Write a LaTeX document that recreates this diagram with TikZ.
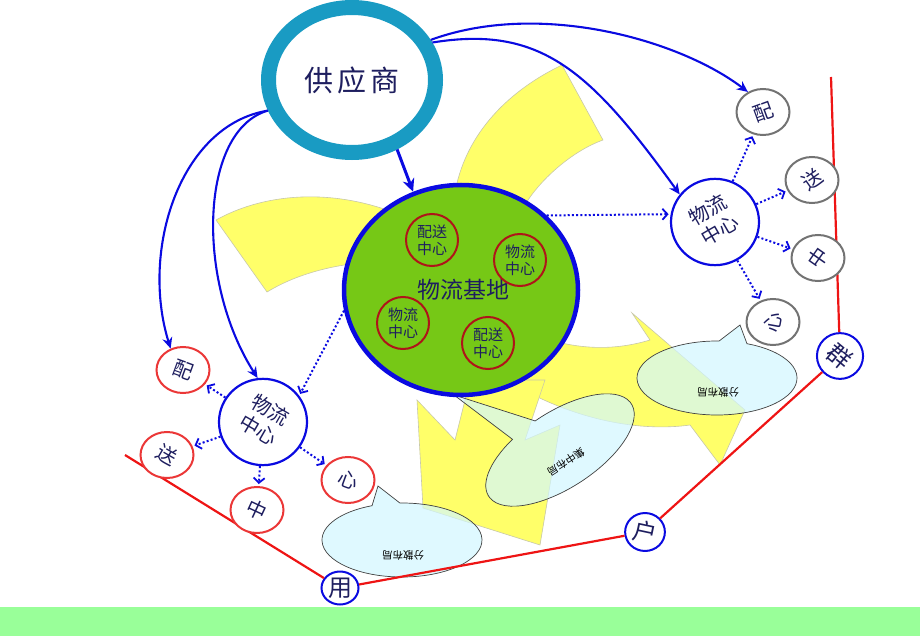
\documentclass[tikz,border=0pt]{standalone}
\usepackage{fontspec}
\newfontfamily\cjk{Noto Sans CJK SC}
\usetikzlibrary{arrows.meta,shapes.geometric,calc}
\definecolor{suppblue}{RGB}{25,155,195}
\definecolor{baseblue}{RGB}{10,10,225}
\definecolor{basegreen}{RGB}{118,200,22}
\definecolor{ringred}{RGB}{175,20,25}
\definecolor{pinkred}{RGB}{235,55,55}
\definecolor{ringgray}{RGB}{115,115,115}
\definecolor{navy}{RGB}{30,30,95}
\definecolor{swirl}{RGB}{255,255,105}
\definecolor{swirledge}{RGB}{200,200,170}
\definecolor{bubble}{RGB}{210,247,255}
\definecolor{lawn}{RGB}{153,255,153}
\definecolor{fence}{RGB}{238,20,20}
\newcommand\tilt[2]{\rotatebox{#1}{\begin{tabular}{@{}c@{}}#2\end{tabular}}}
\tikzset{>=Stealth}
\tikzset{
  hub/.style={ellipse,draw=baseblue,line width=2.2pt,fill=white,inner sep=0pt,
    minimum width=88pt,minimum height=79pt,text=navy,font=\cjk\fontsize{20}{23}\selectfont},
  inring/.style={circle,draw=ringred,line width=2pt,inner sep=0pt,minimum size=52pt,
    text=navy,align=center,font=\cjk\fontsize{15}{17}\selectfont},
  leaf/.style={ellipse,draw=#1,line width=2pt,fill=white,inner sep=0pt,
    minimum width=53pt,minimum height=46pt,text=navy,font=\cjk\fontsize{20}{22}\selectfont},
  stamp/.style={ellipse,draw=baseblue,line width=2pt,fill=white,inner sep=0pt,
    minimum width=37pt,minimum height=33pt,text=navy,font=\cjk\fontsize{24}{24}\selectfont},
  feed/.style={baseblue,line width=2.1pt,-{Stealth[length=11pt,width=10pt]}},
  spread/.style={baseblue,line width=2pt,dash pattern=on 2pt off 2.2pt,
    -{Straight Barb[length=5pt,width=11pt,line width=1.8pt]},shorten >=2pt},
  swirlarrow/.style={fill=swirl,draw=swirledge,line width=0.6pt},
  bubblebox/.style={fill=bubble,fill opacity=0.7,draw=black!75,line width=0.7pt},
  bubbletxt/.style={font=\cjk\fontsize{10.5}{11}\selectfont,text=black}
}

\begin{document}
\begin{tikzpicture}[x=1pt,y=-1pt]
    \useasboundingbox (0,0) rectangle (920,636);
    \fill[lawn] (0,607) rectangle (920,636);
    % yellow swirl
    \draw[swirlarrow] (216,220) .. controls (270,190) and (340,190) .. (400,215)
        -- (420,270) -- (370,262) .. controls (330,265) and (295,275) .. (267,292) -- cycle;
    \draw[swirlarrow] (440,230) -- (457,183) .. controls (470,130) and (510,90) .. (562,65)
        -- (603,140) .. controls (575,150) and (545,175) .. (528,200) -- (500,240) -- cycle;
    \draw[swirlarrow] (520,330) .. controls (570,350) and (610,352) .. (650,340) -- (632,313)
        -- (745,410) -- (720,465) -- (690,425) .. controls (640,432) and (575,420) .. (515,385) -- cycle;
    \draw[swirlarrow] (470,380) -- (455,440) -- (417,400) -- (423,508) -- (540,545)
        -- (560,425) -- (525,440) -- (545,380) -- cycle;
    % callouts
    \filldraw[bubblebox] ($(402,540)+(-91.5:80 and 37)$) arc[start angle=-91.5,end angle=248,x radius=80,y radius=37] -- (378,486) -- cycle;
    \filldraw[bubblebox] ($(717,378)+(-68:80 and 37)$) arc[start angle=-68,end angle=271.5,x radius=80,y radius=37] -- (740,325) -- cycle;
    \begin{scope}[shift={(560,450)},rotate=33]
        \filldraw[bubblebox] (-93.4:85 and 38) arc[start angle=-93.4,end angle=246.4,x radius=85,y radius=38] -- (-59,-104) -- cycle;
    \end{scope}
    \node[bubbletxt,rotate=180] (lowtxt) at (403,555) {分散布局};
    \node[bubbletxt,rotate=180] (righttxt) at (718,392) {分散布局};
    \node[bubbletxt,rotate=213] (midtxt) at (566,462) {集中布局};
    % user group
    \node[stamp] (yong) at (340,588) {用};
    \node[stamp] (hu) at (645,532) {\rotatebox{-12}{户}};
    \node[stamp] (qun) at (840,356) {\rotatebox{-40}{群}};
    \coordinate (fenceL) at (125,455);
    \coordinate (fenceT) at (831,77);
    \draw[fence,line width=2.2pt] (fenceL) -- (yong) (yong) -- (hu) (hu) -- (qun) (qun) -- (fenceT);
    % supplier and base
    \node[ellipse,draw=suppblue,line width=15pt,fill=white,minimum width=167pt,minimum height=145pt,
        text=navy,font=\cjk\fontsize{29}{30}\selectfont] (sup) at (352,80) {供\hspace{4pt}应\hspace{4pt}商};
    \node[ellipse,draw=baseblue,line width=4.5pt,fill=basegreen,minimum width=234pt,minimum height=210pt] (base) at (461,290) {};
    \node[text=navy,font=\cjk\fontsize{23}{24}\selectfont] (basetxt) at (463,290) {物流基地};
    \node[inring] (in1) at (432,240) {配送\\中心};
    \node[inring] (in2) at (520,260) {物流\\中心};
    \node[inring] (in3) at (403,323) {物流\\中心};
    \node[inring] (in4) at (488,343) {配送\\中心};
    % left centre
    \node[hub] (lhub) at (263,422) {\tilt{-30}{物流\\中心}};
    \node[leaf=pinkred] (l1) at (183,370) {\rotatebox{-20}{配}};
    \node[leaf=pinkred] (l2) at (167,455) {\rotatebox{-30}{送}};
    \node[leaf=pinkred] (l3) at (257,510) {\rotatebox{-25}{中}};
    \node[leaf=pinkred] (l4) at (348,480) {\rotatebox{-20}{心}};
    % right centre
    \node[hub] (rhub) at (715,222) {\tilt{30}{物流\\中心}};
    \node[leaf=ringgray] (r1) at (763,112) {\rotatebox{20}{配}};
    \node[leaf=ringgray] (r2) at (812,180) {\rotatebox{35}{送}};
    \node[leaf=ringgray] (r3) at (818,258) {\rotatebox{55}{中}};
    \node[leaf=ringgray] (r4) at (773,322) {\rotatebox{80}{心}};
    % supply lines
    \draw[baseblue,line width=3pt,-{Stealth[length=13pt,width=12pt]}] (sup.-57) -- (base.116);
    \draw[feed] (sup.200) .. controls (180,125) and (140,250) .. (l1.120);
    \draw[feed] (sup.200) .. controls (200,130) and (195,280) .. (lhub.97);
    \draw[feed] (sup.27) .. controls (540,0) and (680,40) .. (r1.127);
    \draw[feed] (sup.25) .. controls (540,25) and (590,70) .. (rhub.142);
    % dotted spreading
    \draw[spread] (base.41) -- (rhub.170);
    \draw[spread] (base.190) -- (lhub.36);
    \foreach \leaf in {l1,l2,l3,l4} \draw[spread] (lhub) -- (\leaf);
    \foreach \leaf in {r1,r2,r3,r4} \draw[spread] (rhub) -- (\leaf);
\end{tikzpicture}
\end{document}
